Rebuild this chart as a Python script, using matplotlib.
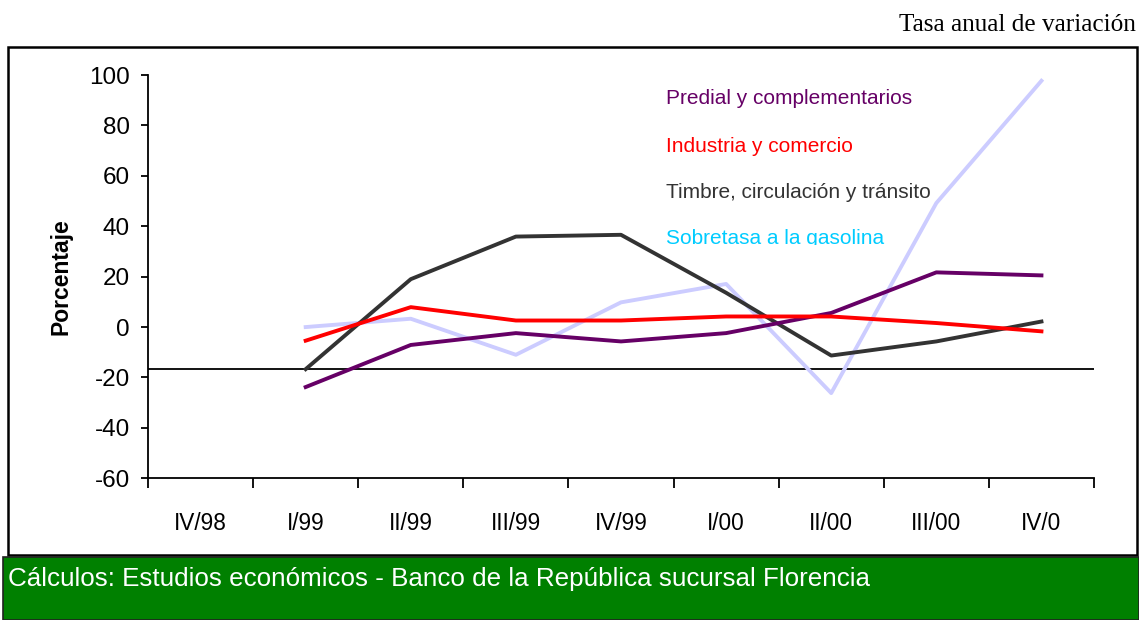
import matplotlib
matplotlib.use("Agg")
import matplotlib.pyplot as plt
from matplotlib.patches import Rectangle
from matplotlib.transforms import Bbox, TransformedBbox

categories = ["IV/98", "I/99", "II/99", "III/99", "IV/99", "I/00", "II/00", "III/00", "IV/0"]
# data starts at I/99 (no value for IV/98)
predial = [-23.8, -7.1, -2.4, -5.7, -2.4, 5.6, 21.7, 20.5]
industria = [-5.4, 7.9, 2.6, 2.6, 4.2, 4.2, 1.6, -1.7]
timbre = [-16.7, 19.0, 35.9, 36.6, 13.6, -11.3, -5.7, 2.2]
sobretasa = [0.0, 3.3, -11.0, 9.8, 17.1, -26.2, 49.2, 97.7]
ref_line = -16.7
yticks = [-60, -40, -20, 0, 20, 40, 60, 80, 100]

plt.rcParams['font.family'] = ['Liberation Sans', 'DejaVu Sans']

W, H = 1139, 620
fig = plt.figure(figsize=(W / 100, H / 100), dpi=100)

def fx(px):
    return px / W

def fy(py):
    return 1 - py / H

# outer frame
fig.patches.append(Rectangle((fx(8), fy(555)), fx(1137) - fx(8), fy(47) - fy(555),
                             transform=fig.transFigure, fill=False, edgecolor='black',
                             linewidth=1.8, zorder=0))
# green footer
fig.patches.append(Rectangle((fx(3), fy(620)), fx(1139) - fx(3), fy(557) - fy(620),
                             transform=fig.transFigure, facecolor='#008000', edgecolor='#222222',
                             linewidth=1.2, zorder=0))
fig.text(fx(8), fy(579), "Cálculos: Estudios económicos - Banco de la República sucursal Florencia",
         color='white', fontsize=18.7, ha='left', va='center')

fig.text(fx(1136), fy(25), "Tasa anual de variación", family=['Liberation Serif', 'DejaVu Serif'],
         fontsize=18.2, ha='right', va='center')

ax = fig.add_axes([fx(148), fy(478.3), fx(1094) - fx(148), fy(75) - fy(478.3)])
ax.set_xlim(-0.5, len(categories) - 0.5)
ax.set_ylim(-60, 100)

xs = list(range(1, len(categories)))
ax.plot(xs, sobretasa, color='#CCCCFF', lw=2.8, zorder=2)
ax.plot(xs, timbre, color='#333333', lw=2.8, zorder=3)
ax.plot(xs, predial, color='#660066', lw=2.8, zorder=4)
ax.plot(xs, industria, color='#FF0000', lw=2.8, zorder=5)
ax.axhline(ref_line, color='black', lw=1.3, zorder=1)

for s in ['top', 'right']:
    ax.spines[s].set_visible(False)
for s in ['left', 'bottom']:
    ax.spines[s].set_linewidth(1.3)

ax.set_yticks(yticks)
ax.set_yticklabels([str(v) for v in yticks])
ax.set_xticks([i - 0.5 for i in range(len(categories) + 1)])
ax.set_xticklabels([])
ax.set_xticks(range(len(categories)), minor=True)
ax.set_xticklabels(categories, minor=True)
ax.tick_params(axis='x', which='major', direction='out', length=7, width=1.3)
ax.tick_params(axis='x', which='minor', length=0, pad=24, labelsize=16.3)
ax.tick_params(axis='y', direction='out', length=5, width=1.3, pad=8, labelsize=17.5)
ax.set_ylabel("Porcentaje", fontsize=16.5, fontweight='bold', labelpad=12)

labels = [("Predial y complementarios", '#660066', 98),
          ("Industria y comercio", '#FF0000', 146),
          ("Timbre, circulación y tránsito", '#333333', 193),
          ("Sobretasa a la gasolina", '#00CCFF', 239)]
clip = TransformedBbox(Bbox([[fx(600), fy(245)], [fx(1000), fy(60)]]), fig.transFigure)
for txt, col, ypx in labels:
    t = fig.text(fx(666), fy(ypx), txt, color=col, fontsize=15, ha='left', va='center')
    t.set_clip_box(clip)
    t.set_clip_on(True)

fig.savefig("out.png", dpi=100)
